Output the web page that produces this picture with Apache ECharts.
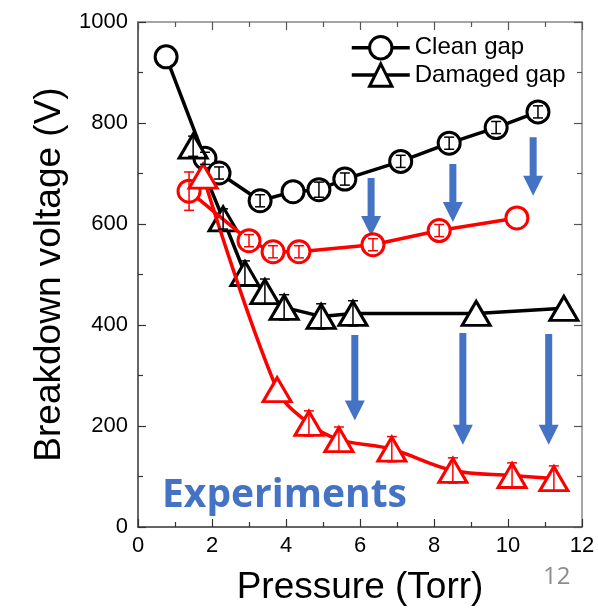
<!DOCTYPE html>
<html>
<head>
<meta charset="utf-8">
<script src="https://cdn.jsdelivr.net/npm/echarts@6/dist/echarts.min.js"></script>
<style>
html,body{margin:0;padding:0;background:#fff;}
#chart{width:598px;height:611px;}
</style>
</head>
<body>
<div id="chart"></div>
<script>
// ---- data ----
const xClean = [0.76, 1.81, 2.19, 3.30, 4.19, 4.89, 5.59, 7.10, 8.41, 9.68, 10.81];
const yClean = [931, 730, 701, 646, 664, 668, 689, 724, 760, 791, 822];
const eClean = [null, 12, 12, 12, null, 15, 12, 12, 12, 12, 12];

const xDamaged = [1.49, 2.30, 2.89, 3.43, 3.95, 4.95, 5.81, 9.14, 11.51];
const yDamaged = [754, 610, 502, 466, 435, 417, 423, 423, 433];
const eDamaged = [20, 20, 25, 25, 25, 25, 25, null, null];

const xCleanAfter = [1.38, 3.00, 3.65, 4.35, 6.35, 8.14, 10.24];
const yCleanAfter = [665, 567, 545, 545, 559, 587, 612];
const eCleanAfter = [38, 12, 12, 12, 12, 12, null];

const xDamagedAfter = [1.76, 3.76, 4.62, 5.43, 6.86, 8.51, 10.11, 11.24];
const yDamagedAfter = [695, 272, 205, 173, 154, 112, 102, 96];
const eDamagedAfter = [null, null, 25, 25, 25, 25, 25, 25];

const arrowX = [6.30, 8.51, 10.68, 5.86, 8.78, 11.10];
const arrowFrom = [691, 719, 772, 380, 384, 382];
const arrowTo = [576, 604, 656, 211, 163, 163];

const xTicks = [0, 2, 4, 6, 8, 10, 12];
const yTicks = [0, 200, 400, 600, 800, 1000];

const seriesNames = ['Clean gap', 'Damaged gap'];
const xTitle = 'Pressure (Torr)';
const yTitle = 'Breakdown voltage (V)';
const noteText = 'Experiments';
const pageNo = '12';

// ---- helpers ----
const zip = (xs, ys) => xs.map((x, i) => [x, ys[i]]);
const errData = (xs, ys, es) => xs.map((x, i) => [x, ys[i], es[i]]).filter(d => d[2] != null);

const FONT = 'Liberation Sans, Arial, sans-serif';
const BLACK = '#000000';
const RED = '#ff0000';
const BLUE = '#4472C4';

function errRender(color) {
  return function (params, api) {
    const x = api.value(0), y = api.value(1), e = api.value(2);
    const lo = api.coord([x, y - e]);
    const hi = api.coord([x, y + e]);
    const w = 5;
    const style = { stroke: color, lineWidth: 1.5 };
    return {
      type: 'group',
      children: [
        { type: 'line', shape: { x1: lo[0], y1: lo[1], x2: hi[0], y2: hi[1] }, style },
        { type: 'line', shape: { x1: lo[0] - w, y1: lo[1], x2: lo[0] + w, y2: lo[1] }, style },
        { type: 'line', shape: { x1: hi[0] - w, y1: hi[1], x2: hi[0] + w, y2: hi[1] }, style }
      ]
    };
  };
}

function arrowRender(params, api) {
  const x = api.value(0);
  const p0 = api.coord([x, api.value(1)]);
  const p1 = api.coord([x, api.value(2)]);
  const sw = 3.5, hw = 10, hl = 20;
  const cx = p0[0];
  const hy = p1[1] - hl;
  return {
    type: 'polygon',
    shape: {
      points: [
        [cx - sw, p0[1]], [cx + sw, p0[1]], [cx + sw, hy], [cx + hw, hy],
        [cx, p1[1]], [cx - hw, hy], [cx - sw, hy]
      ]
    },
    style: { fill: BLUE }
  };
}

const axisLabelStyle = { fontSize: 22, color: '#000', fontFamily: FONT };
const LW = 3.5;

const chart = echarts.init(document.getElementById('chart'), null, { renderer: 'canvas' });

chart.setOption({
  animation: false,
  backgroundColor: '#fff',
  grid: { left: 138, right: 16, top: 22, bottom: 81, containLabel: false },
  legend: {
    left: 345, top: 30, orient: 'vertical', itemWidth: 58, itemHeight: 28, itemGap: 2,
    lineStyle: { width: 3.5 },
    itemStyle: { borderWidth: 3 },
    textStyle: { fontSize: 24, fontFamily: FONT, color: '#000' },
    data: seriesNames
  },
  xAxis: [
    {
      type: 'value', min: 0, max: 12, interval: 2,
      name: xTitle, nameLocation: 'middle', nameGap: 42,
      nameTextStyle: { fontSize: 37, fontFamily: FONT, color: '#000' },
      axisLine: { show: true, onZero: false, lineStyle: { color: '#333', width: 1.5 } },
      axisTick: { show: true, inside: true, length: 8, lineStyle: { color: '#333', width: 1.2 } },
      minorTick: { show: true, splitNumber: 2, length: 5, lineStyle: { color: '#333', width: 1.2 } },
      axisLabel: Object.assign({ margin: 8, formatter: v => xTicks.includes(v) ? String(v) : '' }, axisLabelStyle),
      splitLine: { show: false }
    },
    {
      type: 'value', min: 0, max: 12, interval: 2, position: 'top',
      axisLine: { show: true, onZero: false, lineStyle: { color: '#888', width: 1.5 } },
      axisTick: { show: true, inside: true, length: 8, lineStyle: { color: '#555', width: 1.2 } },
      minorTick: { show: true, splitNumber: 2, length: 5, lineStyle: { color: '#555', width: 1.2 } },
      axisLabel: { show: false }, splitLine: { show: false }
    }
  ],
  yAxis: [
    {
      type: 'value', min: 0, max: 1000, interval: 200,
      name: yTitle, nameLocation: 'middle', nameGap: 70,
      nameTextStyle: { fontSize: 37, fontFamily: FONT, color: '#000' },
      axisLine: { show: true, onZero: false, lineStyle: { color: '#333', width: 1.5 } },
      axisTick: { show: true, inside: true, length: 8, lineStyle: { color: '#333', width: 1.2 } },
      minorTick: { show: true, splitNumber: 2, length: 5, lineStyle: { color: '#333', width: 1.2 } },
      axisLabel: Object.assign({ margin: 10, formatter: v => yTicks.includes(v) ? String(v) : '' }, axisLabelStyle),
      splitLine: { show: false }
    },
    {
      type: 'value', min: 0, max: 1000, interval: 200, position: 'right',
      axisLine: { show: true, onZero: false, lineStyle: { color: '#888', width: 1.5 } },
      axisTick: { show: true, inside: true, length: 8, lineStyle: { color: '#555', width: 1.2 } },
      minorTick: { show: true, splitNumber: 2, length: 5, lineStyle: { color: '#555', width: 1.2 } },
      axisLabel: { show: false }, splitLine: { show: false }
    }
  ],
  graphic: [
    {
      type: 'text', left: 162, top: 476, z: 100,
      style: { text: noteText, fontSize: 39, fontWeight: 'bold', fontFamily: 'Open Sans, sans-serif', fill: BLUE }
    },
    {
      type: 'text', left: 543, top: 565, z: 100,
      style: { text: pageNo, fontSize: 24, fontFamily: 'Open Sans, sans-serif', fill: '#8c8c8c' }
    }
  ],
  series: [
    {
      name: 'arrows', type: 'custom', renderItem: arrowRender, z: 1,
      data: arrowX.map((x, i) => [x, arrowFrom[i], arrowTo[i]])
    },
    {
      name: seriesNames[0], type: 'line', data: zip(xClean, yClean),
      symbol: 'circle', symbolSize: 22, z: 3,
      lineStyle: { color: BLACK, width: LW },
      itemStyle: { color: '#fff', borderColor: BLACK, borderWidth: 3 }
    },
    {
      name: seriesNames[1], type: 'line', data: zip(xDamaged, yDamaged),
      symbol: 'triangle', symbolSize: [28, 24], z: 3,
      lineStyle: { color: BLACK, width: LW },
      itemStyle: { color: '#fff', borderColor: BLACK, borderWidth: 3 }
    },
    {
      name: 'clean-after', type: 'line', data: zip(xCleanAfter, yCleanAfter),
      symbol: 'circle', symbolSize: 22, z: 4,
      lineStyle: { color: RED, width: LW },
      itemStyle: { color: '#fff', borderColor: RED, borderWidth: 3 }
    },
    {
      name: 'damaged-after', type: 'line', data: zip(xDamagedAfter, yDamagedAfter),
      smooth: 0.35,
      symbol: 'triangle', symbolSize: [28, 24], z: 4,
      lineStyle: { color: RED, width: LW },
      itemStyle: { color: '#fff', borderColor: RED, borderWidth: 3 }
    },
    { name: 'e1', type: 'custom', renderItem: errRender(BLACK), z: 10, data: errData(xClean, yClean, eClean) },
    { name: 'e2', type: 'custom', renderItem: errRender(BLACK), z: 10, data: errData(xDamaged, yDamaged, eDamaged) },
    { name: 'e3', type: 'custom', renderItem: errRender(RED), z: 10, data: errData(xCleanAfter, yCleanAfter, eCleanAfter) },
    { name: 'e4', type: 'custom', renderItem: errRender(RED), z: 10, data: errData(xDamagedAfter, yDamagedAfter, eDamagedAfter) }
  ]
});
</script>
</body>
</html>
